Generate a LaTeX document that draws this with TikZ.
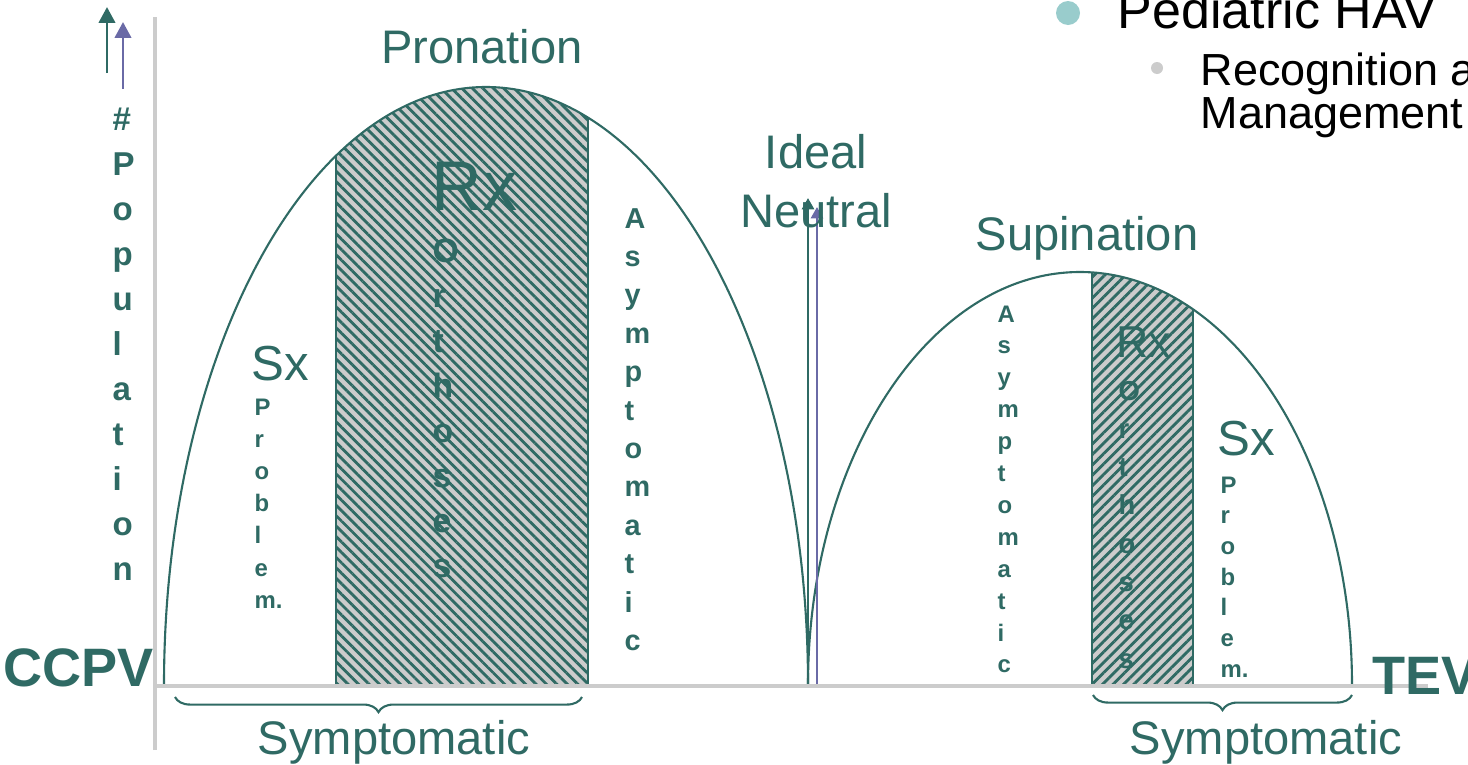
\documentclass[tikz,border=0pt]{standalone}
\usepackage{fontspec}
\setmainfont{Liberation Sans}
\usetikzlibrary{arrows.meta,patterns.meta,decorations.pathreplacing}
\definecolor{hvteal}{HTML}{2F6A64}
\definecolor{hvpurple}{HTML}{6A6AA6}
\definecolor{axisgray}{HTML}{CCCCCC}
\definecolor{bulletcyan}{HTML}{99CCCC}

\begin{document}
\begin{tikzpicture}[
  x=0.1mm, y=-0.1mm,
  every node/.style={inner sep=0pt, text=hvteal},
  heading/.style={font=\fontsize{13.4}{16}\selectfont, anchor=base},
  bigtext/.style={font=\fontsize{#1}{#1}\selectfont, anchor=base west},
  letters/.style={font=\bfseries\fontsize{#1}{#1}\selectfont, anchor=base west},
  hump/.style={draw=hvteal, line width=0.6pt},
  hatch/.style={fill=axisgray, postaction={
    pattern={Lines[angle=#1,distance=2.1pt,line width=0.8pt]},
    pattern color=hvteal}},
  axisline/.style={draw=axisgray, line width=1.4pt},
  uparrow/.style={-{Triangle[length=4.5pt,width=4.6pt]}, line width=0.85pt},
  neutral/.style={-{Triangle[length=3.2pt,width=3.4pt]}, line width=0.75pt},
  underbrace/.style={draw=hvteal, line width=0.6pt, decorate,
    decoration={brace, mirror, amplitude=4.3pt}}
]
  \useasboundingbox (0,0) rectangle (1468,764);

  % Hatched Rx bands, cut to the humps.
  \begin{scope}
    \clip (164,685) .. controls (164,355) and (308,87) .. (486,87)
      .. controls (664,87) and (808,355) .. (808,685) -- cycle;
    \path[hatch=-45] (336,60) rectangle (588,685);
    \draw[hvteal, line width=0.4pt] (336,60) -- (336,685) (588,60) -- (588,685);
  \end{scope}
  \begin{scope}
    \clip (808,685) .. controls (808,457) and (930,272) .. (1080,272)
      .. controls (1230,272) and (1352,457) .. (1352,685) -- cycle;
    \path[hatch=45] (1092,250) rectangle (1193,685);
    \draw[hvteal, line width=0.4pt] (1092,250) -- (1092,685) (1193,250) -- (1193,685);
  \end{scope}

  % Pronation and supination humps.
  \draw[hump] (164,685) .. controls (164,355) and (308,87) .. (486,87)
    .. controls (664,87) and (808,355) .. (808,685);
  \draw[hump] (808,685) .. controls (808,457) and (930,272) .. (1080,272)
    .. controls (1230,272) and (1352,457) .. (1352,685);

  % Ideal neutral.
  \coordinate (nt0) at (808,685);
  \coordinate (nt1) at (808,198);
  \coordinate (np0) at (817,687);
  \coordinate (np1) at (817,207);
  \draw[neutral, hvteal] (nt0) -- (nt1);
  \draw[neutral, hvpurple] (np0) -- (np1);

  % Axes.
  \coordinate (yaxis0) at (155,750);
  \coordinate (yaxis1) at (155,17);
  \coordinate (xaxis0) at (153,686);
  \coordinate (xaxis1) at (1428,686);
  \draw[axisline] (yaxis0) -- (yaxis1);
  \draw[axisline] (xaxis0) -- (xaxis1);
  \coordinate (tealfoot) at (107,73);
  \coordinate (tealtip) at (107,7);
  \coordinate (purplefoot) at (123,89);
  \coordinate (purpletip) at (123,22);
  \draw[uparrow, hvteal] (tealfoot) -- (tealtip);
  \draw[uparrow, hvpurple] (purplefoot) -- (purpletip);

  % Symptomatic braces.
  \coordinate (lbrace0) at (175,697);
  \coordinate (lbrace1) at (582,697);
  \coordinate (rbrace0) at (1093,695);
  \coordinate (rbrace1) at (1352,695);
  \draw[underbrace] (lbrace0) -- (lbrace1);
  \draw[underbrace] (rbrace0) -- (rbrace1);

  % Stacked words.
  \foreach \ch [count=\k from 0] in {\#,P,o,p,u,l,a,t,i,o,n}
    \node[letters=9.4] (pop\k) at (112,130+45*\k) {\ch};
  \foreach \ch [count=\k from 0] in {O,r,t,h,o,s,e,s}
    \node[letters=9.6] (lorth\k) at (432,262+45*\k) {\ch};
  \foreach \ch [count=\k from 0] in {A,s,y,m,p,t,o,m,a,t,i,c}
    \node[letters=8.2] (lasym\k) at (624,228+38.4*\k) {\ch};
  \foreach \ch [count=\k from 0] in {P,r,o,b,l,e,m.}
    \node[letters=6.8] (lprob\k) at (254,415+32.2*\k) {\ch};
  \foreach \ch [count=\k from 0] in {A,s,y,m,p,t,o,m,a,t,i,c}
    \node[letters=6.8] (rasym\k) at (997,322+31.9*\k) {\ch};
  \foreach \ch [count=\k from 0] in {O,r,t,h,o,s,e,s}
    \node[letters=7.8] (rorth\k) at (1118,400+38.3*\k) {\ch};
  \foreach \ch [count=\k from 0] in {P,r,o,b,l,e,m.}
    \node[letters=6.8] (rprob\k) at (1220,493+30.7*\k) {\ch};

  % Labels.
  \node[bigtext=20] (lrx) at (431,210) {Rx};
  \node[bigtext=14] (lsx) at (251,380) {Sx};
  \node[bigtext=12.7] (rrx) at (1116,357) {Rx};
  \node[bigtext=14] (rsx) at (1217,455) {Sx};
  \node[heading] (pronation) at (482,63) {Pronation};
  \node[heading] (ideal) at (816,168) {Ideal};
  \node[heading] (neutral) at (816,227) {Neutral};
  \node[heading] (supination) at (1087,250) {Supination};
  \node[heading] (lsympt) at (394,754) {Symptomatic};
  \node[heading] (rsympt) at (1266,754) {Symptomatic};
  \node[font=\bfseries\fontsize{15.4}{18}\selectfont, anchor=base west]
    (ccpv) at (3,686) {CCPV};
  \node[font=\bfseries\fontsize{15.4}{18}\selectfont, anchor=base west]
    (tev) at (1372,694) {TEV};

  % Slide bullets.
  \fill[bulletcyan] (1068,13) circle[radius=1.2mm];
  \node[font=\fontsize{14.8}{17}\selectfont, anchor=base west, text=black]
    (title) at (1117,28) {Pediatric HAV};
  \fill[axisgray] (1157,68) circle[radius=0.6mm];
  \node[font=\fontsize{12.8}{15}\selectfont, anchor=base west, text=black]
    (sub1) at (1200,85) {Recognition a};
  \node[font=\fontsize{12.8}{15}\selectfont, anchor=base west, text=black]
    (sub2) at (1200,128) {Management};
\end{tikzpicture}
\end{document}
